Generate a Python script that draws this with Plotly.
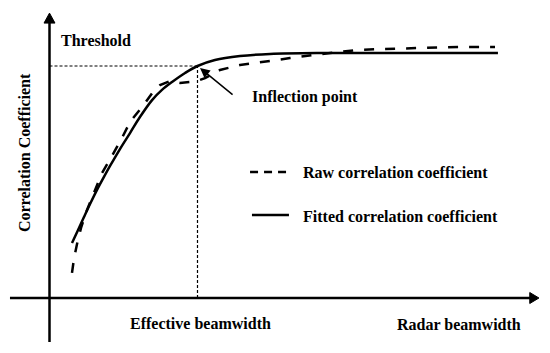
import plotly.graph_objects as go

# Schematic units: x = beamwidth (effective beamwidth = 1), y = correlation (threshold = 1)
fit_x = [0.152, 0.193, 0.233, 0.274, 0.321, 0.368, 0.409, 0.476, 0.544, 0.611, 0.693, 0.760,
         0.828, 0.916, 1.000, 1.118, 1.287, 1.490, 1.828, 2.368, 3.030]
fit_y = [0.237, 0.293, 0.349, 0.405, 0.466, 0.522, 0.569, 0.642, 0.711, 0.780, 0.853, 0.897,
         0.931, 0.970, 1.000, 1.026, 1.043, 1.052, 1.056, 1.056, 1.056]

raw_x = [0.152, 0.166, 0.186, 0.213, 0.253, 0.294, 0.355, 0.422, 0.490, 0.544, 0.632, 0.699,
         0.747, 0.814, 0.882, 0.949, 0.997, 1.051, 1.152, 1.287, 1.470, 1.625, 1.774, 1.943,
         2.078, 2.233, 2.504, 2.774, 3.010]
raw_y = [0.108, 0.172, 0.233, 0.302, 0.379, 0.444, 0.539, 0.612, 0.690, 0.759, 0.828, 0.888,
         0.918, 0.935, 0.927, 0.931, 0.935, 0.948, 0.983, 1.004, 1.022, 1.034, 1.047, 1.060,
         1.069, 1.073, 1.078, 1.082, 1.082]

inflection_x = 1.0
threshold_y = 1.0

series_names = ["Raw correlation coefficient", "Fitted correlation coefficient"]
axis_labels = {"x": "Radar beamwidth", "y": "Correlation Coefficient"}
annot_labels = {"threshold": "Threshold", "inflection": "Inflection point", "effective": "Effective beamwidth"}

FONT = dict(family="Liberation Serif", size=16, color="black")

fig = go.Figure()
fig.add_trace(go.Scatter(x=raw_x, y=raw_y, mode="lines",
                         line=dict(color="black", width=2.5, dash="10px,11px"),
                         hoverinfo="skip"))
fig.add_trace(go.Scatter(x=fit_x, y=fit_y, mode="lines",
                         line=dict(color="black", width=2.5, shape="spline"),
                         hoverinfo="skip"))

shapes = []
# axes
shapes.append(dict(type="line", x0=0, x1=0, y0=-0.19, y1=1.19, line=dict(color="black", width=2.5)))
shapes.append(dict(type="path", path="M -0.037,1.185 L 0,1.228 L 0.037,1.185 Z",
                   fillcolor="black", line=dict(color="black", width=1)))
shapes.append(dict(type="line", x0=-0.267, x1=3.25, y0=0, y1=0, line=dict(color="black", width=2.5)))
shapes.append(dict(type="path", path="M 3.245,0.0237 L 3.307,0 L 3.245,-0.0237 Z",
                   fillcolor="black", line=dict(color="black", width=1)))
# threshold guides
shapes.append(dict(type="line", x0=0, x1=inflection_x, y0=threshold_y, y1=threshold_y,
                   line=dict(color="black", width=1.2, dash="3px,2px")))
shapes.append(dict(type="line", x0=inflection_x, x1=inflection_x, y0=0, y1=threshold_y,
                   line=dict(color="black", width=1.2, dash="3px,2px")))
# legend samples
shapes.append(dict(type="line", x0=1.355, x1=1.605, y0=0.543, y1=0.543,
                   line=dict(color="black", width=2.5, dash="8px,6px")))
shapes.append(dict(type="line", x0=1.368, x1=1.618, y0=0.358, y1=0.358,
                   line=dict(color="black", width=2.5)))

ann = []
def txt(x, y, s, xanchor="center", angle=0):
    ann.append(dict(x=x, y=y, text="<b>%s</b>" % s, showarrow=False, xanchor=xanchor,
                    yanchor="middle", textangle=angle, font=FONT))

txt(0.314, 1.112, annot_labels["threshold"])
txt(1.355, 0.866, annot_labels["inflection"], xanchor="left")
txt(1.017, -0.108, annot_labels["effective"])
txt(2.770, -0.116, axis_labels["x"])
txt(-0.172, 0.625, axis_labels["y"], angle=-90)
txt(1.699, 0.543, series_names[0], xanchor="left")
txt(1.699, 0.353, series_names[1], xanchor="left")

ann.append(dict(x=1.017, y=0.991, ax=1.247, ay=0.871, axref="x", ayref="y",
                showarrow=True, arrowhead=2, arrowsize=1.3, arrowwidth=1.5,
                arrowcolor="black", text=""))

# The page body has an 8px margin, so the figure is 534x337 and the ranges are
# set so the schematic lands where it sits in the 550x353 reference.
fig.update_layout(
    width=534, height=337,
    margin=dict(l=0, r=0, t=0, b=0, pad=0),
    paper_bgcolor="white", plot_bgcolor="white",
    showlegend=False,
    xaxis=dict(range=[-0.2804, 3.3277], visible=False, showgrid=False, zeroline=False),
    yaxis=dict(range=[-0.2026, 1.25], visible=False, showgrid=False, zeroline=False),
    shapes=shapes, annotations=ann,
)

fig.write_html("out.html")
